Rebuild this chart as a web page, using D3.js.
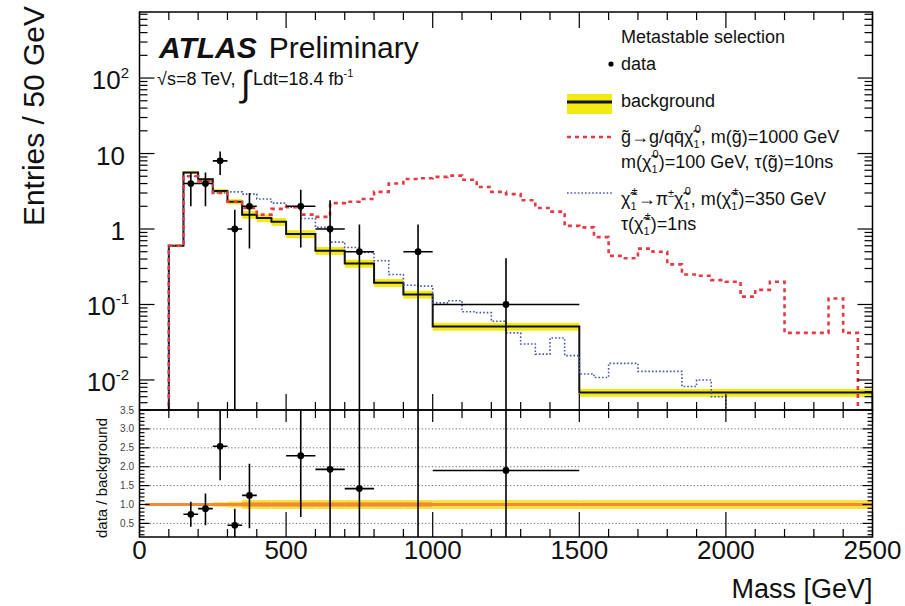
<!DOCTYPE html>
<html>
<head>
<meta charset="utf-8">
<script src="https://cdn.jsdelivr.net/npm/d3@7"></script>
<style>
  body { margin: 0; background: #fff; }
  svg { display: block; }
  text { font-family: "Liberation Sans", Arial, Helvetica, sans-serif; fill: #111; }
</style>
</head>
<body>
<svg id="chart" width="905" height="606"></svg>
<script>
// ---------------- data ----------------
// Expected background (entries / 50 GeV), variable bins
const bgEdges  = [100, 150, 200, 250, 300, 350, 400, 450, 500, 600, 700, 800, 900, 1000, 1500, 2500];
const bgValues = [0.6, 5.6, 4.55, 3.2, 2.3, 1.55, 1.4, 1.25, 0.86, 0.516, 0.35, 0.194, 0.136, 0.051, 0.0068];
const bgRelErr = [0.04, 0.04, 0.04, 0.06, 0.08, 0.12, 0.12, 0.12, 0.12, 0.12, 0.12, 0.12, 0.12, 0.12, 0.12];
const bgStatRelErr = [0, 0, 0, 0, 0, 0.06, 0.06, 0.06, 0.06, 0.06, 0.06, 0.06, 0.06, 0, 0];

// Signal samples, 50 GeV bins starting at 100 GeV
const signalBinStart = 100;
const signalBinWidth = 50;
const gluinoValues = [0.6, 5.0, 4.3, 3.0, 2.3, 1.9, 1.55, 1.85, 1.95, 1.55,
                      1.45, 2.2, 2.3, 2.5, 3.1, 4.0, 4.6, 4.7, 4.9, 5.1,
                      4.5, 3.6, 3.1, 2.9, 2.4, 1.9, 1.7, 1.1, 1.05, 0.78,
                      0.44, 0.41, 0.55, 0.5, 0.34, 0.25, 0.24, 0.21, 0.2, 0.127,
                      0.156, 0.2, 0.042, 0.042, 0.042, 0.12, 0.042];
const charginoValues = [0.6, 5.0, 4.3, 3.0, 3.1, 2.9, 2.5, 2.2, 1.95, 1.38,
                        1.05, 0.67, 0.57, 0.49, 0.38, 0.25, 0.18, 0.175, 0.105, 0.112,
                        0.08, 0.078, 0.06, 0.042, 0.03, 0.022, 0.036, 0.021, 0.012, 0.0108,
                        0.0166, 0.0166, 0.013, 0.013, 0.013, 0.0082, 0.01, 0.006];

// Observed data (entries / 50 GeV) with error-bar ends; 0 means open to the axis
const dataCenters   = [175, 225, 275, 325, 375, 550, 650, 750, 950, 1250];
const dataHalfWidth = [25, 25, 25, 25, 25, 50, 50, 50, 50, 250];
const dataValues    = [4, 4, 8, 1, 2, 2, 1, 0.5, 0.5, 0.1];
const dataErrLow    = [2.0, 2.0, 5.2, 0, 0.55, 0.57, 0, 0, 0, 0];
const dataErrHigh   = [5.6, 5.6, 10.6, 1.8, 3.0, 3.3, 2.4, 1.15, 1.15, 0.41];

// data / background
const ratioValues = [0.74, 0.89, 2.54, 0.45, 1.24, 2.29, 1.93, 1.42, 3.7, 1.9];
const ratioLow    = [0.41, 0.45, 1.64, 0, 0.37, 0.67, 0, 0, 0, 0];
const ratioHigh   = [1.07, 1.29, 3.6, 0.89, 2.08, 3.6, 3.6, 3.6, 3.6, 3.6];

// axes
const xMajorTicks = [0, 500, 1000, 1500, 2000, 2500];
const yTickValues = [0.01, 0.1, 1, 10, 100];
const yTickBase   = ["10", "10", "1", "10", "10"];
const yTickExp    = ["-2", "-1", "", "", "2"];
const ratioTickValues = [0.5, 1.0, 1.5, 2.0, 2.5, 3.0, 3.5];
const ratioTickLabels = ["0.5", "1.0", "1.5", "2.0", "2.5", "3.0", "3.5"];
const ratioGrid = [0.5, 1.0, 1.5, 2.0, 2.5, 3.0];

// ---------------- layout ----------------
const L = 139.5, R = 872.5, T = 12, MID = 410, B = 537;
const svg = d3.select("#chart");

const x  = d3.scaleLinear().domain([0, 2500]).range([L, R]);
const y  = d3.scaleLog().domain([0.004, 750]).range([MID, T]);
const yr = d3.scaleLinear().domain([0.14, 3.5]).range([B, MID]);

const defs = svg.append("defs");
defs.append("clipPath").attr("id", "clipMain").append("rect")
  .attr("x", L).attr("y", T).attr("width", R - L).attr("height", MID - T);
defs.append("clipPath").attr("id", "clipRatio").append("rect")
  .attr("x", L).attr("y", MID).attr("width", R - L).attr("height", B - MID);

const yv = v => (v > 0 ? Math.min(MID + 4, y(v)) : MID + 4);

function stepPath(edges, vals) {
  const pts = [[x(edges[0]), MID + 4]];
  vals.forEach((v, i) => {
    pts.push([x(edges[i]), yv(v)]);
    pts.push([x(edges[i + 1]), yv(v)]);
  });
  pts.push([x(edges[edges.length - 1]), MID + 4]);
  return d3.line()(pts);
}
const edgesFor = vals => vals.map((v, i) => signalBinStart + i * signalBinWidth)
  .concat([signalBinStart + vals.length * signalBinWidth]);

// ---------------- main panel ----------------
const gMain = svg.append("g").attr("clip-path", "url(#clipMain)");

// background uncertainty band
gMain.selectAll("rect.band").data(bgValues).join("rect")
  .attr("class", "band")
  .attr("x", (d, i) => x(bgEdges[i]))
  .attr("width", (d, i) => x(bgEdges[i + 1]) - x(bgEdges[i]))
  .attr("y", (d, i) => y(d * (1 + bgRelErr[i])))
  .attr("height", (d, i) => y(d * (1 - bgRelErr[i])) - y(d * (1 + bgRelErr[i])))
  .attr("fill", "#f2ea12");

// background histogram
gMain.append("path").attr("d", stepPath(bgEdges, bgValues))
  .attr("fill", "none").attr("stroke", "#111").attr("stroke-width", 2);

// chargino signal (blue dotted)
gMain.append("path").attr("d", stepPath(edgesFor(charginoValues), charginoValues))
  .attr("fill", "none").attr("stroke", "#4a5aa8").attr("stroke-width", 1.6)
  .attr("stroke-dasharray", "1.6,2");

// gluino signal (red dashed)
gMain.append("path").attr("d", stepPath(edgesFor(gluinoValues), gluinoValues))
  .attr("fill", "none").attr("stroke", "#e53a45").attr("stroke-width", 2.6)
  .attr("stroke-dasharray", "4,4");

// data points
const gData = gMain.append("g").attr("stroke", "#000").attr("stroke-width", 1.6);
dataValues.forEach((v, i) => {
  const cx = x(dataCenters[i]);
  gData.append("line")
    .attr("x1", cx).attr("x2", cx)
    .attr("y1", yv(dataErrLow[i])).attr("y2", y(dataErrHigh[i]));
  gData.append("line")
    .attr("x1", x(dataCenters[i] - dataHalfWidth[i])).attr("x2", x(dataCenters[i] + dataHalfWidth[i]))
    .attr("y1", y(v)).attr("y2", y(v));
  gData.append("circle").attr("cx", cx).attr("cy", y(v)).attr("r", 3.4)
    .attr("fill", "#000").attr("stroke", "none");
});

// ---------------- ratio panel ----------------
const gRatio = svg.append("g").attr("clip-path", "url(#clipRatio)");

gRatio.selectAll("line.grid").data(ratioGrid).join("line")
  .attr("class", "grid")
  .attr("x1", L).attr("x2", R).attr("y1", d => yr(d)).attr("y2", d => yr(d))
  .attr("stroke", "#666").attr("stroke-width", 1).attr("stroke-dasharray", "1.2,2.2");

gRatio.selectAll("rect.rband").data(bgRelErr).join("rect")
  .attr("class", "rband")
  .attr("x", (d, i) => x(bgEdges[i]))
  .attr("width", (d, i) => x(bgEdges[i + 1]) - x(bgEdges[i]))
  .attr("y", d => yr(1 + d))
  .attr("height", d => yr(1 - d) - yr(1 + d))
  .attr("fill", "#fbe33a");

gRatio.selectAll("rect.sband").data(bgStatRelErr).join("rect")
  .attr("class", "sband")
  .attr("x", (d, i) => x(bgEdges[i]))
  .attr("width", (d, i) => x(bgEdges[i + 1]) - x(bgEdges[i]))
  .attr("y", d => yr(1 + d))
  .attr("height", d => yr(1 - d) - yr(1 + d))
  .attr("fill", "#f0a030");

gRatio.append("line")
  .attr("x1", x(20)).attr("x2", x(2500)).attr("y1", yr(1)).attr("y2", yr(1))
  .attr("stroke", "#ee8a3a").attr("stroke-width", 3);

const gRD = gRatio.append("g").attr("stroke", "#000").attr("stroke-width", 1.6);
ratioValues.forEach((v, i) => {
  const cx = x(dataCenters[i]);
  gRD.append("line").attr("x1", cx).attr("x2", cx)
    .attr("y1", ratioLow[i] > 0 ? yr(ratioLow[i]) : B + 4).attr("y2", yr(ratioHigh[i]));
  gRD.append("line")
    .attr("x1", x(dataCenters[i] - dataHalfWidth[i])).attr("x2", x(dataCenters[i] + dataHalfWidth[i]))
    .attr("y1", yr(v)).attr("y2", yr(v));
  gRD.append("circle").attr("cx", cx).attr("cy", yr(v)).attr("r", 3.4)
    .attr("fill", "#000").attr("stroke", "none");
});

// ---------------- frames and ticks ----------------
const gAx = svg.append("g").attr("stroke", "#000").attr("fill", "none");
gAx.append("rect").attr("x", L).attr("y", T).attr("width", R - L).attr("height", MID - T).attr("stroke-width", 1.5);
gAx.append("rect").attr("x", L).attr("y", MID).attr("width", R - L).attr("height", B - MID).attr("stroke-width", 1.5);

function tick(x1, y1, x2, y2) {
  gAx.append("line").attr("x1", x1).attr("y1", y1).attr("x2", x2).attr("y2", y2).attr("stroke-width", 1.2);
}

// x ticks (every 100 GeV, longer at 500)
const xMinor = d3.range(0, 2501, 100);
xMinor.forEach(m => {
  const major = xMajorTicks.includes(m);
  const px = x(m);
  tick(px, MID, px, MID - (major ? 16 : 8));   // main bottom
  tick(px, T, px, T + (major ? 16 : 8));       // main top
  tick(px, MID, px, MID + (major ? 12 : 8));   // ratio top
  tick(px, B, px, B - (major ? 25 : 8));       // ratio bottom
});

// log y ticks
const yMinor = [];
[0.001, 0.01, 0.1, 1, 10, 100].forEach(dec => {
  for (let k = 1; k <= 9; k++) {
    const v = dec * k;
    if (v >= 0.004 && v <= 750) yMinor.push({ v, major: k === 1 });
  }
});
yMinor.forEach(t => {
  const py = y(t.v);
  tick(L, py, L + (t.major ? 15 : 8), py);
  tick(R, py, R - (t.major ? 15 : 8), py);
});

// ratio y ticks
d3.range(0.2, 3.501, 0.1).forEach(v => {
  const major = Math.abs(v * 2 - Math.round(v * 2)) < 1e-6;
  const py = yr(v);
  tick(L, py, L + (major ? 10 : 5), py);
  tick(R, py, R - (major ? 10 : 5), py);
});

// ---------------- labels ----------------
svg.selectAll("text.xl").data(xMajorTicks).join("text")
  .attr("class", "xl")
  .attr("x", d => x(d)).attr("y", 559)
  .attr("text-anchor", "middle").attr("font-size", 26)
  .text(d => d);

yTickValues.forEach((v, i) => {
  const t = svg.append("text")
    .attr("x", yTickExp[i] ? 129 : 125).attr("y", y(v) + 11)
    .attr("text-anchor", "end").attr("font-size", 26);
  t.append("tspan").text(yTickBase[i]);
  if (yTickExp[i]) t.append("tspan").attr("dy", -11).attr("font-size", 15).text(yTickExp[i]);
});

svg.selectAll("text.rl").data(ratioTickValues).join("text")
  .attr("class", "rl")
  .attr("x", 134).attr("y", d => yr(d) + 3.5)
  .attr("text-anchor", "end").attr("font-size", 10).style("fill", "#444")
  .text((d, i) => ratioTickLabels[i]);

svg.append("text").attr("transform", "translate(44,6) rotate(-90)")
  .attr("text-anchor", "end").attr("font-size", 30)
  .text("Entries / 50 GeV");

svg.append("text").attr("transform", "translate(107,478) rotate(-90)")
  .attr("text-anchor", "middle").attr("font-size", 15)
  .text("data / background");

svg.append("text").attr("x", R).attr("y", 598)
  .attr("text-anchor", "end").attr("font-size", 27)
  .text("Mass [GeV]");

// ATLAS label
const atl = svg.append("text").attr("x", 159).attr("y", 58).attr("font-size", 30);
atl.append("tspan").attr("font-weight", "bold").attr("font-style", "italic").text("ATLAS");
atl.append("tspan").attr("dx", 12).text("Preliminary");

// centre-of-mass energy and luminosity
svg.append("text").attr("x", 157).attr("y", 85).attr("font-size", 18).text("√s=8 TeV,");
svg.append("text").attr("x", 241).attr("y", 96).attr("font-size", 36).text("∫");
const lumi = svg.append("text").attr("x", 253).attr("y", 85).attr("font-size", 18);
lumi.append("tspan").text("Ldt=18.4 fb");
lumi.append("tspan").attr("dy", -8).attr("font-size", 11).text("-1");

// ---------------- legend ----------------
const LX = 621, SX0 = 567, SX1 = 612;
function rich(sel, parts) {
  parts.forEach(p => {
    const t = sel.append("tspan").text(p.t);
    if (p.dx) t.attr("dx", p.dx);
    if (p.dy) t.attr("dy", p.dy);
    if (p.fs) t.attr("font-size", p.fs);
  });
}
svg.append("text").attr("x", LX).attr("y", 43).attr("font-size", 18).text("Metastable selection");

svg.append("circle").attr("cx", 611).attr("cy", 64).attr("r", 2.6).attr("fill", "#000");
svg.append("text").attr("x", LX).attr("y", 70).attr("font-size", 18).text("data");

svg.append("rect").attr("x", SX0).attr("y", 94).attr("width", SX1 - SX0).attr("height", 20).attr("fill", "#f2ea12");
svg.append("line").attr("x1", SX0).attr("x2", SX1).attr("y1", 102).attr("y2", 102)
  .attr("stroke", "#111").attr("stroke-width", 3);
svg.append("text").attr("x", LX).attr("y", 107).attr("font-size", 18).text("background");

svg.append("line").attr("x1", SX0).attr("x2", SX1).attr("y1", 137).attr("y2", 137)
  .attr("stroke", "#e53a45").attr("stroke-width", 2.6).attr("stroke-dasharray", "4,4");
rich(svg.append("text").attr("x", LX).attr("y", 143).attr("font-size", 18), [
  { t: "g\u0303→g/q" }, { t: "q\u0304χ\u0303" },
  { t: "1", dy: 5, fs: 11 }, { t: "0", dx: -5, dy: -15, fs: 11 },
  { t: ", m(g\u0303)=1000 GeV", dy: 10 }
]);
rich(svg.append("text").attr("x", LX).attr("y", 168).attr("font-size", 18), [
  { t: "m(χ\u0303" }, { t: "1", dy: 5, fs: 11 }, { t: "0", dx: -5, dy: -15, fs: 11 },
  { t: ")=100 GeV, τ(g\u0303)=10ns", dy: 10 }
]);

svg.append("line").attr("x1", SX0).attr("x2", SX1).attr("y1", 193).attr("y2", 193)
  .attr("stroke", "#4a5aa8").attr("stroke-width", 1.6).attr("stroke-dasharray", "1.6,2");
rich(svg.append("text").attr("x", LX).attr("y", 205).attr("font-size", 18), [
  { t: "χ\u0303" }, { t: "1", dy: 5, fs: 11 }, { t: "±", dx: -5, dy: -15, fs: 11 },
  { t: "→π", dy: 10 }, { t: "±", dy: -8, fs: 11 },
  { t: "χ\u0303", dy: 8 }, { t: "1", dy: 5, fs: 11 }, { t: "0", dx: -5, dy: -15, fs: 11 },
  { t: ", m(χ\u0303", dy: 10 }, { t: "1", dy: 5, fs: 11 }, { t: "±", dx: -5, dy: -15, fs: 11 },
  { t: ")=350 GeV", dy: 10 }
]);
rich(svg.append("text").attr("x", LX).attr("y", 230).attr("font-size", 18), [
  { t: "τ(χ\u0303" }, { t: "1", dy: 5, fs: 11 }, { t: "±", dx: -5, dy: -15, fs: 11 },
  { t: ")=1ns", dy: 10 }
]);
</script>
</body>
</html>
